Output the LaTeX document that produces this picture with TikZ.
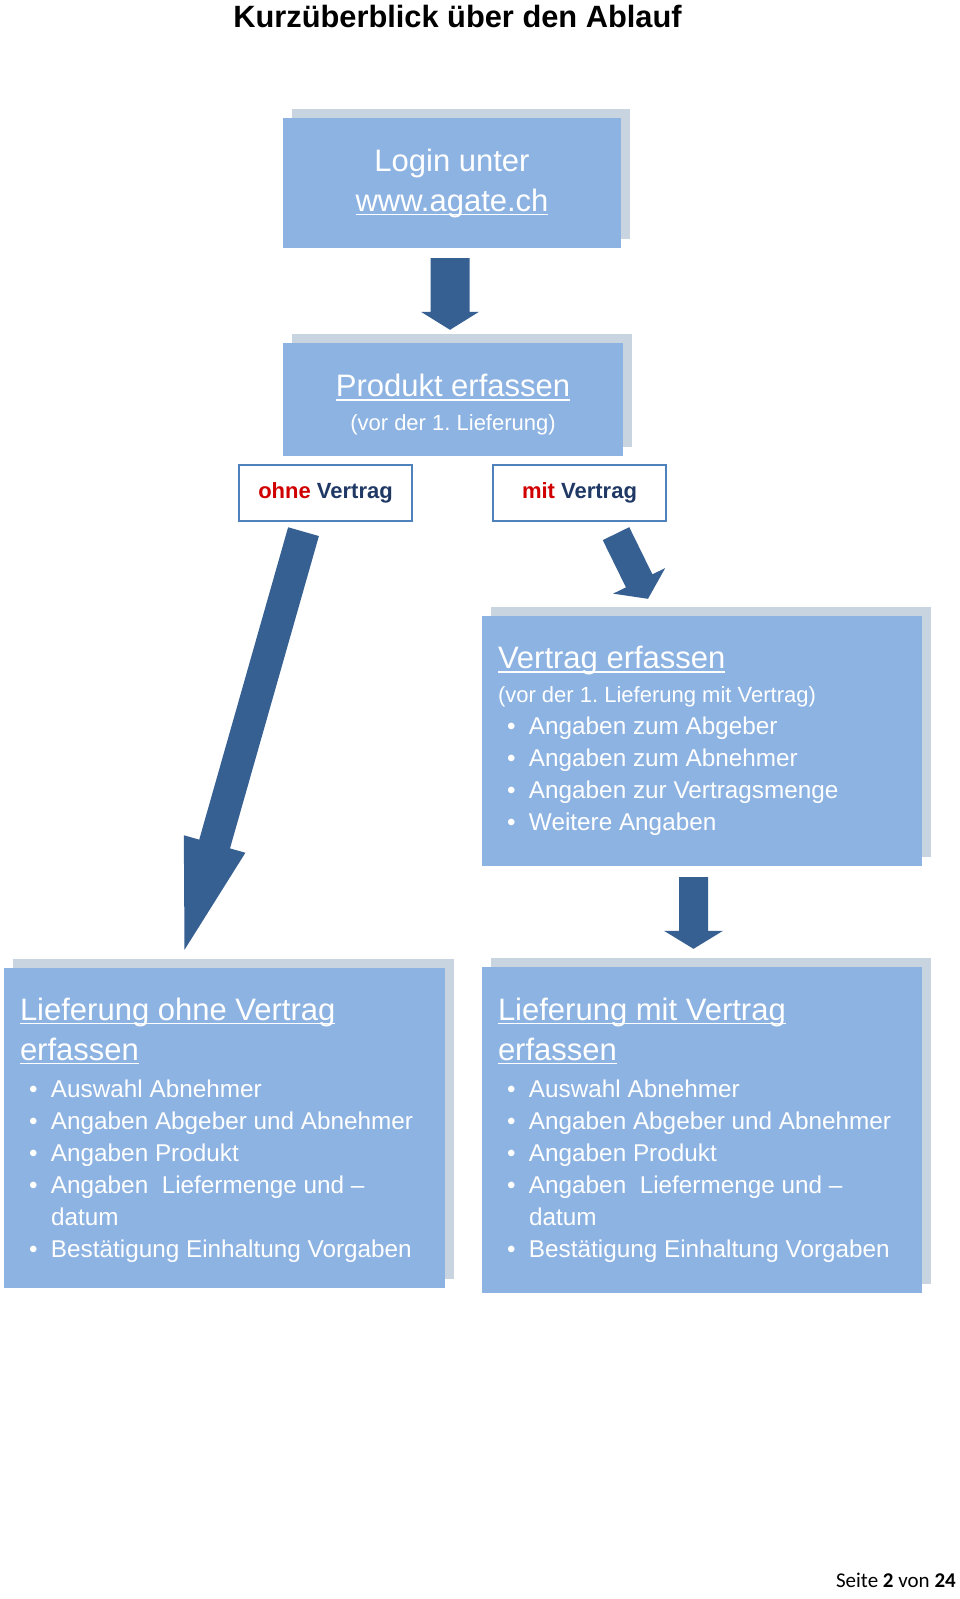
\documentclass[tikz,border=0pt]{standalone}
\usepackage{fontspec}
\setmainfont{Liberation Sans}
\newfontfamily\pagefont{Carlito}
\usetikzlibrary{calc,shadows}
\setlength\parindent{0pt}

\definecolor{boxblue}{HTML}{8DB3E2}
\definecolor{shadowgray}{HTML}{C8D4E0}
\definecolor{arrowblue}{HTML}{376092}
\definecolor{frameblue}{HTML}{4F81BD}
\definecolor{ohnered}{HTML}{D00000}
\definecolor{navy}{HTML}{1F3864}

\newsavebox\ulinebox
\newcommand\ulined[1]{\leavevmode\sbox\ulinebox{#1}\rlap{\rule[-4pt]{\wd\ulinebox}{1.4pt}}\usebox\ulinebox}
\newcommand\listpt[1]{\par\hangindent=31pt\hangafter=1\noindent\makebox[31pt][l]{\hspace*{9pt}\textbullet}#1}
\newcommand\fixspace{\spaceskip=\fontdimen2\font\xspaceskip=\fontdimen2\font\relax}
\newcommand\headfont{\fontsize{31}{40}\selectfont\fixspace}
\newcommand\subfont{\fontsize{22}{34}\selectfont\fixspace}
\newcommand\listfont{\fontsize{24.3}{32}\selectfont\fixspace}

% block arrow: tail, tip, half shaft, half head, head length
\newcommand\blockarrow[5]{%
  \path ($(#2)!#5!(#1)$) coordinate (headbase);
  \fill[arrowblue] ($(#1)!#3!90:(#2)$) -- ($(headbase)!#3!90:(#2)$)
    -- ($(headbase)!#4!90:(#2)$) -- (#2) -- ($(headbase)!#4!-90:(#2)$)
    -- ($(headbase)!#3!-90:(#2)$) -- ($(#1)!#3!-90:(#2)$) -- cycle;
}

\tikzset{
  flowbox/.style={fill=boxblue, text=white, inner xsep=16pt, inner ysep=0pt,
    drop shadow={shadow xshift=9pt, shadow yshift=9pt, fill=shadowgray, opacity=1}},
  choicebox/.style={draw=frameblue, line width=1.3pt, fill=white,
    minimum width=173pt, minimum height=56pt, text=navy,
    font=\bfseries\fontsize{22}{26}\selectfont},
}

\begin{document}
\begin{tikzpicture}[x=1pt,y=-1pt]
  \fill[white] (0,0) rectangle (960,1599);
  \useasboundingbox (0,0) rectangle (960,1599);

  \node[font=\bfseries\fontsize{30.8}{36}\selectfont, anchor=base] (title) at (457.5,27)
    {Kurzüberblick über den Ablauf};

  \node[flowbox, minimum width=338pt, minimum height=130pt, text width=306pt, align=center]
    (login) at (452,183) {{\headfont Login unter\par\ulined{www.agate.ch}\par}};

  \node[flowbox, minimum width=340pt, minimum height=113pt, text width=308pt, align=center]
    (produkt) at (453,399.5)
    {{\headfont\rule{0pt}{32.6pt}\ulined{Produkt erfassen}\par}{\subfont(vor der 1. Lieferung)\par}};

  \node[choicebox] (ohne) at (325.5,493) {{\color{ohnered}ohne} Vertrag};
  \node[choicebox] (mit) at (579.5,493) {{\color{ohnered}mit} Vertrag};

  \node[flowbox, minimum width=440pt, minimum height=250pt, text width=408pt, align=left]
    (vertrag) at (702,741) {%
    {\headfont\ulined{Vertrag erfassen}\par}
    {\subfont(vor der 1. Lieferung mit Vertrag)\par}
    \listfont
    \listpt{Angaben zum Abgeber}
    \listpt{Angaben zum Abnehmer}
    \listpt{Angaben zur Vertragsmenge}
    \listpt{Weitere Angaben}\par};

  \node[flowbox, minimum width=441pt, minimum height=320pt, text width=409pt, align=left]
    (lohne) at (224.5,1128) {%
    {\headfont\rule{0pt}{26.6pt}\ulined{Lieferung ohne Vertrag}\newline\ulined{erfassen}\par}\vspace{5pt}
    \listfont
    \listpt{Auswahl Abnehmer}
    \listpt{Angaben Abgeber und Abnehmer}
    \listpt{Angaben Produkt}
    \listpt{Angaben\ \ Liefermenge und –\newline datum}
    \listpt{Bestätigung Einhaltung Vorgaben}\par};

  \node[flowbox, minimum width=440pt, minimum height=326pt, text width=408pt, align=left]
    (lmit) at (702,1130) {%
    {\headfont\ulined{Lieferung mit Vertrag}\newline\ulined{erfassen}\par}\vspace{5pt}
    \listfont
    \listpt{Auswahl Abnehmer}
    \listpt{Angaben Abgeber und Abnehmer}
    \listpt{Angaben Produkt}
    \listpt{Angaben\ \ Liefermenge und –\newline datum}
    \listpt{Bestätigung Einhaltung Vorgaben}\par};

  % arrow ends
  \coordinate (loginout) at ([xshift=-2pt,yshift=-10pt]login.south);
  \coordinate (produktin) at ([xshift=-3pt,yshift=13pt]produkt.north);
  \coordinate (ohneout) at ([xshift=-22pt,yshift=-10pt]ohne.south);
  \coordinate (lohnein) at ([xshift=-40pt,yshift=18pt]lohne.north);
  \coordinate (mitout) at ([xshift=36.5pt,yshift=-12pt]mit.south);
  \coordinate (vertragin) at ([xshift=-54pt,yshift=17pt]vertrag.north);
  \coordinate (vertragout) at ([xshift=-8.5pt,yshift=-11pt]vertrag.south);
  \coordinate (lmitin) at ([xshift=-8.5pt,yshift=18pt]lmit.north);

  \blockarrow{loginout}{produktin}{19.5pt}{29pt}{18pt}
  \blockarrow{ohneout}{lohnein}{16pt}{32pt}{110pt}
  \blockarrow{mitout}{vertragin}{14.75pt}{29pt}{20pt}
  \blockarrow{vertragout}{lmitin}{14.5pt}{29.5pt}{18pt}

  \node[font=\pagefont\fontsize{21}{25}\selectfont, anchor=base east, inner sep=0pt]
    (pagenum) at (956,1587) {Seite \textbf{2} von \textbf{24}};
\end{tikzpicture}
\end{document}
